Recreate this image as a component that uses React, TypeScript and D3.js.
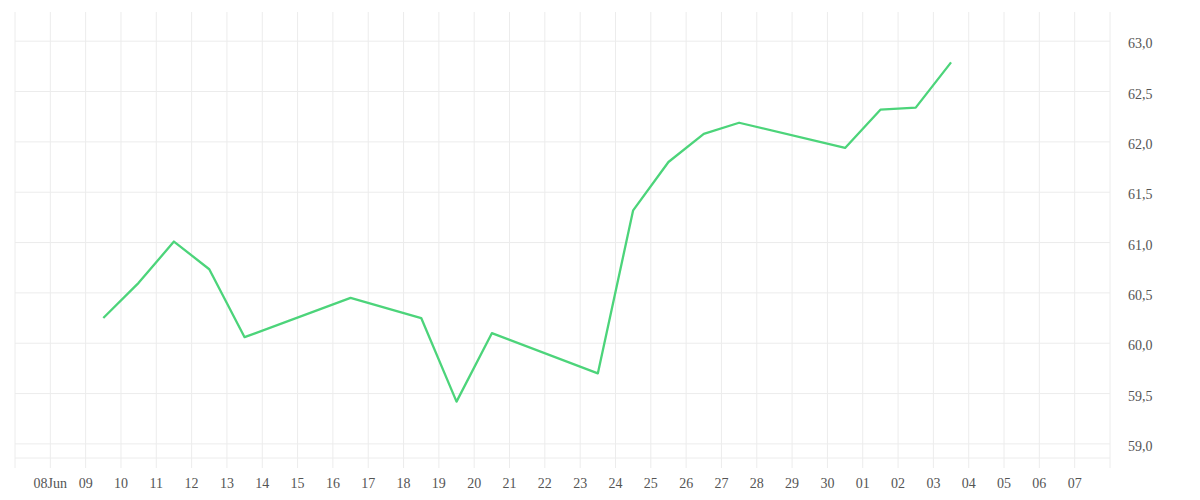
import React from "react";
import * as d3 from "d3";

// Data: dates (noon UTC) and values
const dates: string[] = [
  "2025-06-09T12:00:00Z", "2025-06-10T12:00:00Z", "2025-06-11T12:00:00Z", "2025-06-12T12:00:00Z",
  "2025-06-13T12:00:00Z", "2025-06-16T12:00:00Z", "2025-06-18T12:00:00Z", "2025-06-19T12:00:00Z",
  "2025-06-20T12:00:00Z", "2025-06-23T12:00:00Z", "2025-06-24T12:00:00Z", "2025-06-25T12:00:00Z",
  "2025-06-26T12:00:00Z", "2025-06-27T12:00:00Z", "2025-06-30T12:00:00Z", "2025-07-01T12:00:00Z",
  "2025-07-02T12:00:00Z", "2025-07-03T12:00:00Z",
];
const values: number[] = [
  60.25, 60.60, 61.01, 60.735, 60.06, 60.45, 60.25, 59.42,
  60.10, 59.70, 61.32, 61.80, 62.08, 62.19, 61.94, 62.32,
  62.34, 62.79,
];
const yTicks: number[] = [59.0, 59.5, 60.0, 60.5, 61.0, 61.5, 62.0, 62.5, 63.0];
const xStart = "2025-06-07T00:00:00Z";
const xEnd = "2025-07-08T00:00:00Z";

export default function App() {
  const left = 15, right = 1110, top = 12, bottom = 458;
  const x = d3.scaleUtc().domain([new Date(xStart), new Date(xEnd)]).range([left, right]);
  const y = d3.scaleLinear().domain([58.86, 63.29]).range([bottom, top]);
  const days = d3.utcDay.range(new Date(xStart), new Date(xEnd));
  const points = dates.map((d, i) => ({ t: new Date(d), v: values[i] }));
  const line = d3.line<{ t: Date; v: number }>().x((d) => x(d.t)).y((d) => y(d.v));
  const fmtDay = d3.utcFormat("%d");
  const fmtFirst = d3.utcFormat("%d%b");
  const fmtY = (v: number) => v.toFixed(1).replace(".", ",");
  const grid = "#ececec";
  const font = "'Liberation Serif', 'Times New Roman', serif";

  return (
    <svg width={1200} height={500} style={{ position: "absolute", left: 0, top: 0, display: "block" }}>
      <rect x={0} y={0} width={1200} height={500} fill="#fff" />
      {yTicks.map((t) => (
        <line key={"h" + t} x1={left} x2={right} y1={y(t)} y2={y(t)} stroke={grid} strokeWidth={1} />
      ))}
      <line x1={left} x2={right} y1={bottom} y2={bottom} stroke={grid} strokeWidth={1} />
      {days.map((d, i) => (
        <line key={"v" + i} x1={x(d)} x2={x(d)} y1={top} y2={bottom + 10} stroke={grid} strokeWidth={1} />
      ))}
      <line x1={right} x2={right} y1={top} y2={bottom + 10} stroke={grid} strokeWidth={1} />
      {days.slice(1).map((d, i) => (
        <text key={"xl" + i} x={x(d)} y={488} textAnchor="middle" fontFamily={font} fontSize={14} fill="#555">
          {i === 0 ? fmtFirst(d) : fmtDay(d)}
        </text>
      ))}
      {yTicks.map((t) => (
        <text key={"yl" + t} x={1128} y={y(t) + 7} fontFamily={font} fontSize={14} fill="#555">
          {fmtY(t)}
        </text>
      ))}
      <path d={line(points) || ""} fill="none" stroke="#4cd47a" strokeWidth={2.3} strokeLinejoin="round" />
    </svg>
  );
}
